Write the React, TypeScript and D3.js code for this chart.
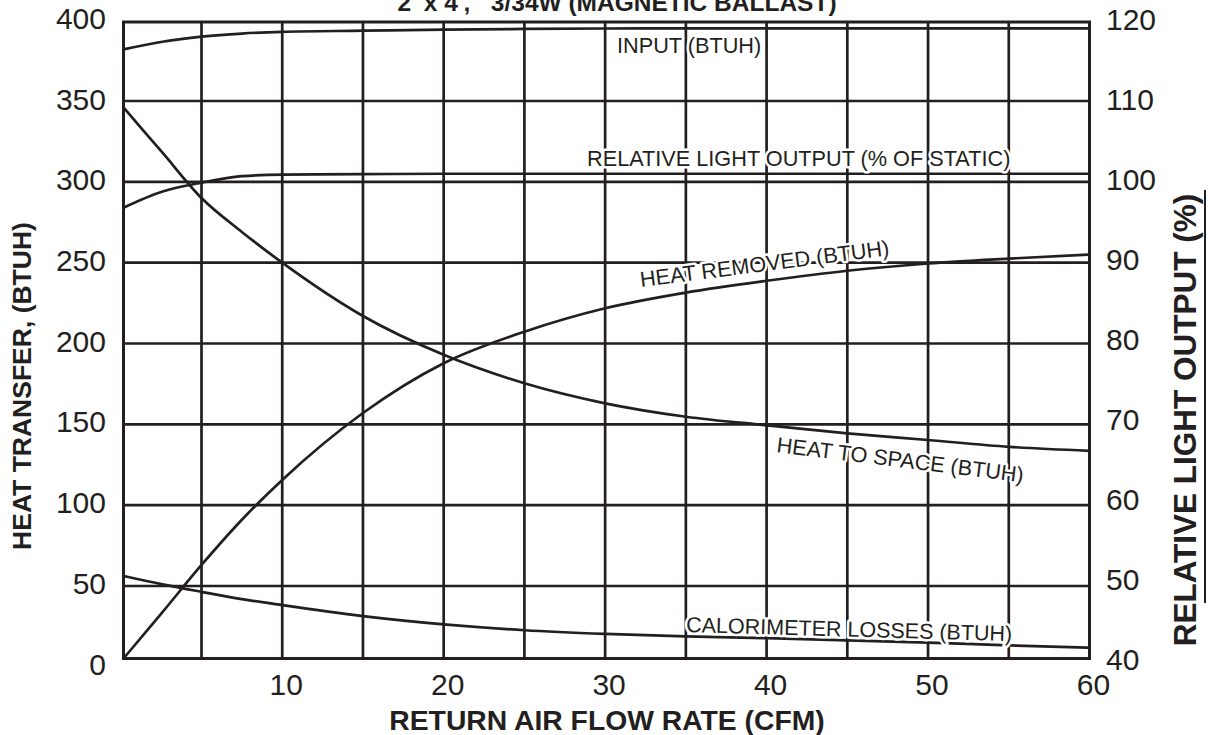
import React from "react";
import * as d3 from "d3";

// ---- data ----
const cfm = [0, 2.5, 5, 7.5, 10, 15, 20, 25, 30, 35, 40, 45, 50, 55, 60];
const inputBtuh = [382.7, 387.5, 390.7, 392.7, 393.8, 394.5, 395.2, 395.6, 395.9, 396, 396, 396, 396, 396, 396];
const heatToSpaceBtuh = [346, 318, 290, 269, 250, 217, 193, 175.4, 163, 154.7, 149.4, 144.4, 140.3, 136.1, 133.6];
const heatRemovedBtuh = [0, 32, 63, 91, 115.6, 157, 187.8, 207.3, 221.8, 231.5, 238.8, 245, 249.5, 252.5, 255];
const calorimeterLossesBtuh = [56.2, 51, 46, 41, 36.8, 29.2, 23.5, 19.5, 17, 15.3, 14, 12.5, 11, 9, 7.5];
const relativeLightPct = [96.8, 98.8, 99.9, 100.7, 100.9, 100.95, 101, 101, 101, 101, 101, 101, 101, 101, 101];

const xTickLabels = [10, 20, 30, 40, 50, 60];
const xGridValues = [5, 10, 15, 20, 25, 30, 35, 40, 45, 50, 55];
const yLeftTickLabels = [0, 50, 100, 150, 200, 250, 300, 350, 400];
const yGridValues = [50, 100, 150, 200, 250, 300, 350];
const yRightTickLabels = [40, 50, 60, 70, 80, 90, 100, 110, 120];

const INK = "#231f20";
const FONT = "'Liberation Sans', Arial, Helvetica, sans-serif";

export default function App() {
  const W = 1208;
  const H = 735;

  // the printed grid is slightly irregular at its ends; polylinear scales follow it
  const x = d3.scaleLinear().domain([0, 5, 60]).range([123.5, 201.5, 1089.5]);
  const y = d3.scaleLinear().domain([0, 50, 350, 400]).range([658.5, 586, 101, 22]);
  const yR = d3.scaleLinear().domain([40, 50, 110, 120]).range([658.5, 586, 101, 22]);
  // tick label placement scales
  const yLabL = d3.scaleLinear().domain([0, 400]).range([664, 18.5]);
  const yLabR = d3.scaleLinear().domain([40, 120]).range([659, 19]);

  const line = (vals: number[], sc: d3.ScaleLinear<number, number>) =>
    d3
      .line<number>()
      .x((_, i) => x(cfm[i]))
      .y((v) => sc(v))
      .curve(d3.curveMonotoneX)(vals) as string;

  const [x0, x1] = [x(0), x(60)];
  const [yTop, yBot] = [y(400), y(0)];

  const halo = {
    stroke: "#fff",
    strokeWidth: 5,
    paintOrder: "stroke" as const,
    strokeLinejoin: "round" as const,
  };

  return (
    <svg
      width={W}
      height={H}
      viewBox={`0 0 ${W} ${H}`}
      style={{ position: "absolute", left: 0, top: 0, display: "block", background: "#fff" }}
    >
      <rect width={W} height={H} fill="#fff" />

      {/* title (clipped at the top in the original) */}
      <text x={617} y={11} textAnchor="middle" fontFamily={FONT} fontWeight="bold" fontSize={24.5} fill={INK}>
        {"2' x 4',\u00a0\u00a0\u00a03/34W (MAGNETIC BALLAST)"}
      </text>

      {/* grid */}
      <g stroke={INK} strokeWidth={2.7}>
        {xGridValues.map((v) => (
          <line key={"gx" + v} x1={x(v)} x2={x(v)} y1={yTop} y2={yBot} />
        ))}
        {yGridValues.map((v) => (
          <line key={"gy" + v} x1={x0} x2={x1} y1={y(v)} y2={y(v)} />
        ))}
      </g>

      {/* curves */}
      <g fill="none" stroke={INK} strokeWidth={2.7} strokeLinecap="round">
        <path d={line(inputBtuh, y)} />
        <path d={line(heatToSpaceBtuh, y)} />
        <path d={line(heatRemovedBtuh, y)} />
        <path d={line(calorimeterLossesBtuh, y)} />
        <path d={line(relativeLightPct, yR)} />
      </g>

      {/* frame */}
      <rect x={x0} y={yTop} width={x1 - x0} height={yBot - yTop} fill="none" stroke={INK} strokeWidth={3} />

      {/* curve labels */}
      <g fontFamily={FONT} fontSize={21.7} fill={INK}>
        <text x={617} y={53} {...halo}>INPUT (BTUH)</text>
        <text x={587} y={166} {...halo}>RELATIVE LIGHT OUTPUT (% OF STATIC)</text>
        <text transform="translate(641,287) rotate(-7.3)" {...halo}>HEAT REMOVED (BTUH)</text>
        <text transform="translate(776,452) rotate(7)" {...halo}>HEAT TO SPACE (BTUH)</text>
        <text transform="translate(686,632) rotate(1.6)" fontSize={21.5} {...halo}>CALORIMETER LOSSES (BTUH)</text>
      </g>

      {/* tick labels */}
      <g fontFamily={FONT} fontSize={30} fill={INK}>
        {yLeftTickLabels.map((v) => (
          <text key={"yl" + v} x={106} y={yLabL(v)} textAnchor="end" dominantBaseline="central">
            {v}
          </text>
        ))}
        {yRightTickLabels.map((v) => (
          <text key={"yr" + v} x={1106} y={yLabR(v)} textAnchor="start" dominantBaseline="central">
            {v}
          </text>
        ))}
        {xTickLabels.map((v) => (
          <text key={"xt" + v} x={x(v) + 4} y={684} textAnchor="middle" dominantBaseline="central">
            {v}
          </text>
        ))}
      </g>

      {/* axis titles */}
      <g fontFamily={FONT} fontWeight="bold" fill={INK}>
        <text transform="translate(22,386) rotate(-90)" textAnchor="middle" dominantBaseline="central" fontSize={26.5}>
          HEAT TRANSFER, (BTUH)
        </text>
        <text transform="translate(1185,420) rotate(-90)" textAnchor="middle" dominantBaseline="central" fontSize={31.5}>
          RELATIVE LIGHT OUTPUT (%)
        </text>
        <text x={607} y={720} textAnchor="middle" dominantBaseline="central" fontSize={28.3}>
          RETURN AIR FLOW RATE (CFM)
        </text>
      </g>

      {/* rule beside the right-axis title */}
      <line x1={1205} x2={1205} y1={190} y2={603} stroke={INK} strokeWidth={2} />
    </svg>
  );
}
